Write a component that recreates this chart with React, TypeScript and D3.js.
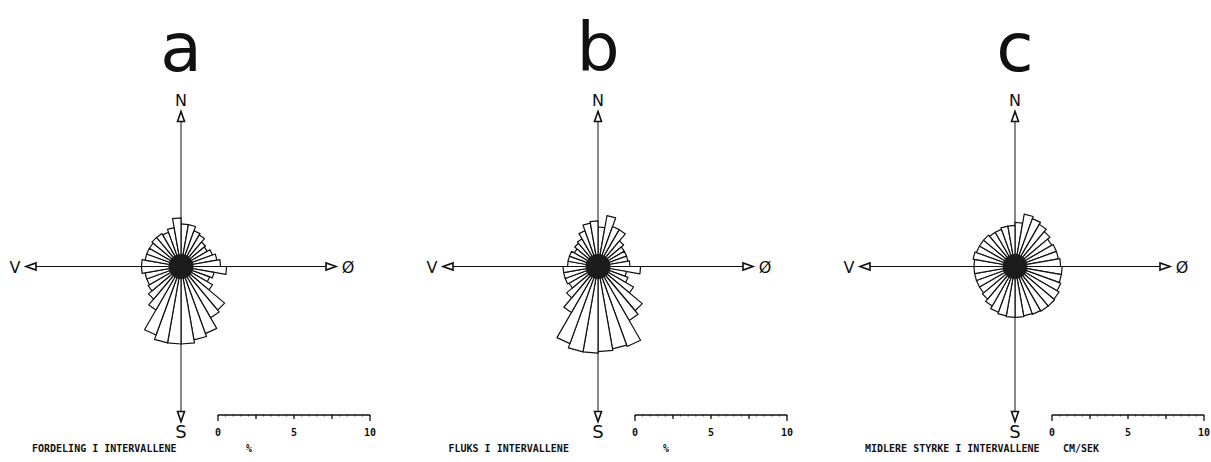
import React from "react";
import * as d3 from "d3";

// 36 sectors of 10°, clockwise from north (0–10°, 10–20°, ...)
const fordeling = [2.8, 2.8, 2.5, 2.4, 2.1, 2.0, 2.2, 2.4, 2.6, 3.0, 2.2, 2.0, 2.4, 3.75, 3.9, 4.7, 4.9, 5.1, 5.1, 5.1, 4.8, 3.3, 2.8, 2.5, 2.4, 2.4, 2.6, 2.6, 2.4, 2.4, 2.4, 2.5, 2.5, 2.4, 2.6, 3.2];
const fluks = [2.6, 3.4, 2.8, 2.8, 2.2, 2.0, 2.0, 2.0, 2.1, 2.8, 1.9, 2.1, 2.7, 3.8, 4.1, 5.6, 5.5, 5.6, 5.7, 5.7, 5.4, 3.5, 2.7, 2.2, 2.3, 2.3, 2.3, 2.0, 2.0, 2.0, 1.8, 2.0, 2.1, 2.5, 2.9, 3.0];
const styrke = [2.9, 3.5, 3.35, 3.2, 3.0, 2.8, 2.9, 2.9, 3.0, 3.1, 3.1, 3.2, 3.35, 3.4, 3.4, 3.35, 3.3, 3.35, 3.35, 3.3, 3.2, 3.0, 2.8, 2.7, 2.7, 2.7, 2.7, 2.7, 2.8, 2.7, 2.7, 2.7, 2.6, 2.6, 2.7, 2.7];

const panelLetters = ["a", "b", "c"];
const panelTitles = ["FORDELING I INTERVALLENE", "FLUKS I INTERVALLENE", "MIDLERE STYRKE I INTERVALLENE"];
const panelUnits = ["%", "%", "CM/SEK"];
const scaleTicks = [0, 2.5, 5, 7.5, 10];
const scaleLabels = [0, 5, 10];
const minorTicks = d3.range(0, 10.01, 0.5);

const W = 1211;
const H = 462;
const ARM = 155;

const rScale = d3.scaleLinear().domain([0, 10]).range([0, 152]);
const aScale = d3.scaleLinear().domain([0, 36]).range([0, 2 * Math.PI]);

function sectorPath(cx: number, cy: number, i: number, v: number) {
  const r = rScale(v);
  const a1 = aScale(i);
  const a2 = aScale(i + 1);
  const p = d3.path();
  p.moveTo(cx, cy);
  p.lineTo(cx + r * Math.sin(a1), cy - r * Math.cos(a1));
  p.lineTo(cx + r * Math.sin(a2), cy - r * Math.cos(a2));
  p.closePath();
  return p.toString();
}

const mono = "'DejaVu Sans Mono', monospace";
const sans = "'DejaVu Sans', sans-serif";

function Panel({ idx, values }: { idx: number; values: number[] }) {
  const cx = 181 + idx * 417;
  const cy = 266.5;
  const s0 = cx + 37;
  const sy = 415;
  const ah = 10; // arrow head length
  const aw = 3.5;
  return (
    <g>
      <text x={cx} y={71} textAnchor="middle" fontFamily={sans} fontSize={68} fill="#111">
        {panelLetters[idx]}
      </text>
      {/* axes */}
      <line x1={cx} y1={cy - ARM} x2={cx} y2={cy + ARM} stroke="#111" strokeWidth={1} />
      <line x1={cx - ARM} y1={cy} x2={cx + ARM} y2={cy} stroke="#111" strokeWidth={1} />
      {/* arrow heads */}
      <path d={`M${cx},${cy - ARM} L${cx - aw},${cy - ARM + ah} L${cx + aw},${cy - ARM + ah} Z`} fill="white" stroke="#111" strokeWidth={1.6} />
      <path d={`M${cx},${cy + ARM} L${cx - aw},${cy + ARM - ah} L${cx + aw},${cy + ARM - ah} Z`} fill="white" stroke="#111" strokeWidth={1.6} />
      <path d={`M${cx - ARM},${cy} L${cx - ARM + ah},${cy - aw} L${cx - ARM + ah},${cy + aw} Z`} fill="white" stroke="#111" strokeWidth={1.6} />
      <path d={`M${cx + ARM},${cy} L${cx + ARM - ah},${cy - aw} L${cx + ARM - ah},${cy + aw} Z`} fill="white" stroke="#111" strokeWidth={1.6} />
      <text x={cx} y={106} textAnchor="middle" fontFamily={sans} fontSize={16} fill="#111">N</text>
      <text x={cx} y={438} textAnchor="middle" fontFamily={sans} fontSize={18} fill="#111">S</text>
      <text x={cx - ARM - 11} y={cy + 6} textAnchor="middle" fontFamily={sans} fontSize={16} fill="#111">V</text>
      <text x={cx + ARM + 12} y={cy + 6} textAnchor="middle" fontFamily={sans} fontSize={16} fill="#111">Ø</text>
      {/* rose */}
      {values.map((v, i) => (
        <path key={i} d={sectorPath(cx, cy, i, v)} fill="white" stroke="#111" strokeWidth={1.2} strokeLinejoin="round" />
      ))}
      <circle cx={cx} cy={cy} r={12.5} fill="#1c1c1c" />
      {/* scale bar */}
      <line x1={s0} y1={sy} x2={s0 + rScale(10)} y2={sy} stroke="#111" strokeWidth={1.3} />
      {minorTicks.map((t, i) => (
        <line key={i} x1={s0 + rScale(t)} y1={sy} x2={s0 + rScale(t)} y2={sy + 1.5} stroke="#111" strokeWidth={0.8} />
      ))}
      {scaleTicks.map((t, i) => (
        <line key={i} x1={s0 + rScale(t)} y1={sy} x2={s0 + rScale(t)} y2={sy + (t === 0 || t === 10 ? 6 : 4)} stroke="#111" strokeWidth={1.3} />
      ))}
      {scaleLabels.map((t, i) => (
        <text key={i} x={s0 + rScale(t)} y={436} textAnchor="middle" fontFamily={mono} fontWeight="bold" fontSize={10} fill="#111">
          {t}
        </text>
      ))}
      <text x={32 + idx * 416.5} y={452} fontFamily={mono} fontWeight="bold" fontSize={10} fill="#111">
        {panelTitles[idx]}
      </text>
      <text x={idx === 2 ? cx + 48 : cx + 65} y={452} fontFamily={mono} fontWeight="bold" fontSize={10} fill="#111">
        {panelUnits[idx]}
      </text>
    </g>
  );
}

export default function App() {
  const series = [fordeling, fluks, styrke];
  return (
    <svg width={W} height={H} style={{ position: "absolute", left: 0, top: 0, background: "white" }}>
      <rect width={W} height={H} fill="white" />
      {series.map((s, i) => (
        <Panel key={i} idx={i} values={s} />
      ))}
    </svg>
  );
}
